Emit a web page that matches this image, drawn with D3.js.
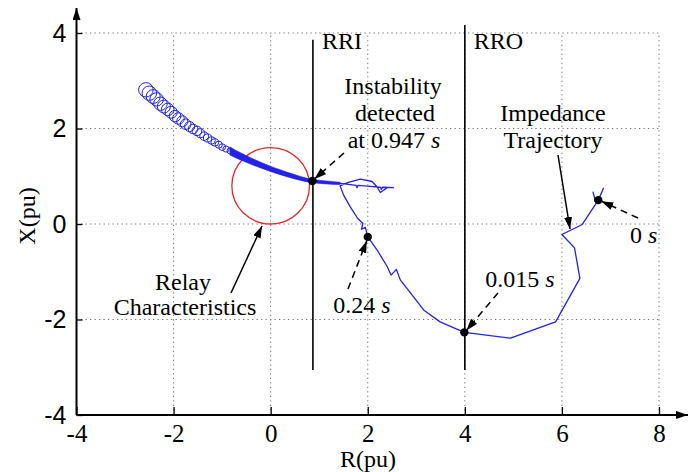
<!DOCTYPE html>
<html>
<head>
<meta charset="utf-8">
<script src="https://cdn.jsdelivr.net/npm/d3@7"></script>
<style>
  body { margin: 0; background: #fff; }
  svg { display: block; }
</style>
</head>
<body>
<svg id="chart" width="696" height="472"></svg>
<script>
// ---- data (R, X in pu) ----
const xTicks = [-4, -2, 0, 2, 4, 6, 8];
const yTicks = [-4, -2, 0, 2, 4];

// impedance trajectory, in time order from t = 0 s
const trajR = [6.86, 6.75, 6.42, 6.00, 6.26, 6.37, 5.87, 4.94, 3.99, 3.49, 3.15, 2.94, 2.67, 2.59, 2.48, 2.40, 2.19, 2.00, 1.95, 1.87, 1.90, 1.79, 1.64, 1.50, 1.43, 1.60, 1.85, 2.09, 2.19, 2.26, 2.40, 2.53, 2.30, 2.28, 2.26, 2.05, 1.80, 1.78, 1.76, 1.60, 1.43];
const trajX = [0.76, 0.50, -0.01, -0.22, -0.50, -1.14, -2.05, -2.39, -2.27, -2.05, -1.80, -1.52, -1.17, -0.95, -1.07, -0.89, -0.54, -0.27, -0.07, -0.11, 0.01, 0.12, 0.36, 0.61, 0.80, 0.87, 0.94, 0.89, 0.78, 0.66, 0.76, 0.76, 0.77, 0.72, 0.77, 0.79, 0.81, 0.76, 0.81, 0.83, 0.85];

// short spike near the starting point
const spikeR = [6.64, 6.69];
const spikeX = [0.68, 0.47];

// dense oscillation band after the swing re-enters (centre line and half amplitude)
const bandR = [-0.84, -0.63, -0.22, 0.33, 0.86, 1.15, 1.43];
const bandX = [1.53, 1.42, 1.24, 1.04, 0.90, 0.87, 0.85];
const bandHalf = [0.085, 0.075, 0.06, 0.048, 0.035, 0.03, 0.025];

// spiralling loops of the trajectory (loop centre and loop amplitude)
const loopR = [-2.57, -2.50, -2.42, -2.35, -2.27, -2.20, -2.12, -2.05, -1.97, -1.90, -1.82, -1.75, -1.67, -1.60, -1.52, -1.45, -1.37, -1.30, -1.22, -1.15, -1.07, -1.00, -0.92, -0.84];
const loopX = [2.81, 2.74, 2.67, 2.61, 2.52, 2.46, 2.40, 2.34, 2.26, 2.21, 2.15, 2.09, 2.04, 1.99, 1.95, 1.90, 1.84, 1.80, 1.75, 1.71, 1.66, 1.61, 1.57, 1.53];
const loopAmp = [0.15, 0.15, 0.145, 0.14, 0.14, 0.135, 0.13, 0.125, 0.12, 0.12, 0.115, 0.11, 0.105, 0.10, 0.10, 0.095, 0.09, 0.085, 0.08, 0.08, 0.075, 0.07, 0.065, 0.06];

// relay (mho) characteristic
const relayCentre = [0, 0.8];
const relayRadius = 0.8;

// blinders
const blinderNames = ["RRI", "RRO"];
const blinderR = [0.87, 4.0];
const blinderBottom = [-3.06, -3.06];
const blinderTop = [3.86, 4.17];

// marked instants on the trajectory
const markLabel = ["0.947", "0.24", "0.015", "0"];
const markR = [0.86, 2.00, 3.99, 6.75];
const markX = [0.90, -0.27, -2.27, 0.50];

// ---- drawing ----
const svg = d3.select("#chart");
const x = d3.scaleLinear().domain([-4, 8]).range([76.5, 659]);
const y = d3.scaleLinear().domain([-4, 4]).range([415, 33]);

const serif = "'Liberation Serif', 'Times New Roman', serif";
const sans = "'Liberation Sans', Arial, sans-serif";
const blue = "#2222e8";
const plainNumber = d => String(d);

const defs = svg.append("defs");
defs.append("marker").attr("id", "head")
  .attr("viewBox", "0 0 12 8").attr("refX", 12).attr("refY", 4)
  .attr("markerWidth", 12).attr("markerHeight", 8)
  .attr("markerUnits", "userSpaceOnUse").attr("orient", "auto")
  .append("path").attr("d", "M0,0 L12,4 L0,8 Z").attr("fill", "#000");

// dotted grid
const grid = svg.append("g").attr("stroke", "#777").attr("stroke-width", 1)
  .attr("stroke-dasharray", "1.3,3.2");
grid.selectAll(".gx").data(xTicks.filter(d => d > -4)).join("line")
  .attr("x1", d => x(d)).attr("x2", d => x(d)).attr("y1", y(-4)).attr("y2", y(4));
grid.selectAll(".gy").data(yTicks.filter(d => d > -4)).join("line")
  .attr("y1", d => y(d)).attr("y2", d => y(d)).attr("x1", x(-4)).attr("x2", x(8));

// relay characteristic circle
svg.append("ellipse")
  .attr("cx", x(relayCentre[0])).attr("cy", y(relayCentre[1]))
  .attr("rx", x(relayRadius) - x(0)).attr("ry", y(0) - y(relayRadius))
  .attr("fill", "none").attr("stroke", "#e8282a").attr("stroke-width", 1.3);

// dense band
const bandPts = bandR.map((r, i) => ({ r, x: bandX[i], h: bandHalf[i] }));
svg.append("path").datum(bandPts)
  .attr("d", d3.area().x(d => x(d.r)).y0(d => y(d.x - d.h)).y1(d => y(d.x + d.h)).curve(d3.curveMonotoneX))
  .attr("fill", blue).attr("stroke", blue).attr("stroke-width", 0.6);

// spiral loops
svg.append("g").selectAll("ellipse").data(loopR.map((r, i) => ({ r, x: loopX[i], a: loopAmp[i] })))
  .join("ellipse")
  .attr("cx", d => x(d.r)).attr("cy", d => y(d.x))
  .attr("rx", d => x(d.a) - x(0)).attr("ry", d => y(0) - y(d.a))
  .attr("fill", "none").attr("stroke", blue).attr("stroke-width", 1.0);

// trajectory
const line = d3.line().x(d => x(d[0])).y(d => y(d[1]));
svg.append("path").datum(trajR.map((r, i) => [r, trajX[i]]))
  .attr("d", line).attr("fill", "none").attr("stroke", blue)
  .attr("stroke-width", 1.3).attr("stroke-linejoin", "round");
svg.append("path").datum(spikeR.map((r, i) => [r, spikeX[i]]))
  .attr("d", line).attr("fill", "none").attr("stroke", blue).attr("stroke-width", 1.3);

// blinder lines
blinderR.forEach((r, i) => {
  svg.append("line")
    .attr("x1", x(r)).attr("x2", x(r)).attr("y1", y(blinderBottom[i])).attr("y2", y(blinderTop[i]))
    .attr("stroke", "#000").attr("stroke-width", 1.6);
});
svg.append("g").attr("font-family", serif).attr("font-size", 24)
  .selectAll("text").data(blinderNames).join("text")
  .attr("x", (d, i) => x(blinderR[i]) + 9).attr("y", 49).text(d => d);

// time marks
svg.append("g").selectAll("circle").data(markR.map((r, i) => [r, markX[i]]))
  .join("circle").attr("cx", d => x(d[0])).attr("cy", d => y(d[1])).attr("r", 4.2).attr("fill", "#000");

// annotations
const ann = svg.append("g").attr("font-family", serif).attr("font-size", 24).attr("fill", "#000");
function timeLabel(tx, ty, value, anchor) {
  const t = ann.append("text").attr("x", tx).attr("y", ty).attr("text-anchor", anchor || "start");
  t.append("tspan").text(value + " ");
  t.append("tspan").attr("font-style", "italic").text("s");
  return t;
}
function arrow(x1, y1, x2, y2, dashed) {
  ann.append("line").attr("x1", x1).attr("y1", y1).attr("x2", x2).attr("y2", y2)
    .attr("stroke", "#000").attr("stroke-width", 1.5)
    .attr("stroke-dasharray", dashed ? "7,5" : null)
    .attr("marker-end", "url(#head)");
}

ann.append("text").attr("x", 393).attr("y", 94).attr("text-anchor", "middle").text("Instability");
ann.append("text").attr("x", 395).attr("y", 121).attr("text-anchor", "middle").text("detected");
timeLabel(394, 148, "at " + markLabel[0], "middle");
arrow(344, 153, x(markR[0]) + 2, y(markX[0]) - 2, true);

timeLabel(362, 313, markLabel[1], "middle");
arrow(348, 289, x(markR[1]) - 1, y(markX[1]) + 4, true);

timeLabel(520, 287, markLabel[2], "middle");
arrow(498, 293, x(markR[2]) + 2, y(markX[2]) - 2, true);

timeLabel(630, 243, markLabel[3], "start");
arrow(638, 218, x(markR[3]) + 3, y(markX[3]) + 1, true);

ann.append("text").attr("x", 553).attr("y", 121).attr("text-anchor", "middle").text("Impedance");
ann.append("text").attr("x", 553).attr("y", 148).attr("text-anchor", "middle").text("Trajectory");
arrow(558, 155, 570, 229, false);

ann.append("text").attr("x", 183).attr("y", 290).attr("text-anchor", "middle").text("Relay");
ann.append("text").attr("x", 185).attr("y", 315).attr("text-anchor", "middle").text("Characteristics");
arrow(231, 293, 262, 226, false);

// axes
const xAxis = d3.axisBottom(x).tickValues(xTicks).tickSize(-8).tickSizeOuter(0).tickPadding(9)
  .tickFormat(plainNumber);
const gx = svg.append("g").attr("transform", `translate(0,${y(-4)})`).call(xAxis);
gx.select(".domain").remove();
gx.selectAll(".tick line").attr("stroke-width", 1.3);
gx.selectAll("text").attr("font-family", serif).attr("font-size", 25).attr("fill", "#000");

const yAxis = d3.axisLeft(y).tickValues(yTicks).tickSize(-6).tickSizeOuter(0).tickPadding(10)
  .tickFormat(plainNumber);
const gy = svg.append("g").attr("transform", `translate(${x(-4)},0)`).call(yAxis);
gy.select(".domain").remove();
gy.selectAll(".tick line").attr("stroke-width", 1.3);
gy.selectAll("text").attr("font-family", sans).attr("font-size", 25).attr("fill", "#000");

svg.append("line").attr("x1", x(-4)).attr("x2", 688).attr("y1", y(-4)).attr("y2", y(-4))
  .attr("stroke", "#000").attr("stroke-width", 2).attr("marker-end", "url(#head)");
svg.append("line").attr("x1", x(-4)).attr("x2", x(-4)).attr("y1", y(-4)).attr("y2", 8)
  .attr("stroke", "#000").attr("stroke-width", 2).attr("marker-end", "url(#head)");

svg.append("text").attr("x", 368).attr("y", 467).attr("text-anchor", "middle")
  .attr("font-family", serif).attr("font-size", 24).text("R(pu)");
svg.append("text").attr("transform", "translate(35,216) rotate(-90)").attr("text-anchor", "middle")
  .attr("font-family", serif).attr("font-size", 24).text("X(pu)");
</script>
</body>
</html>
